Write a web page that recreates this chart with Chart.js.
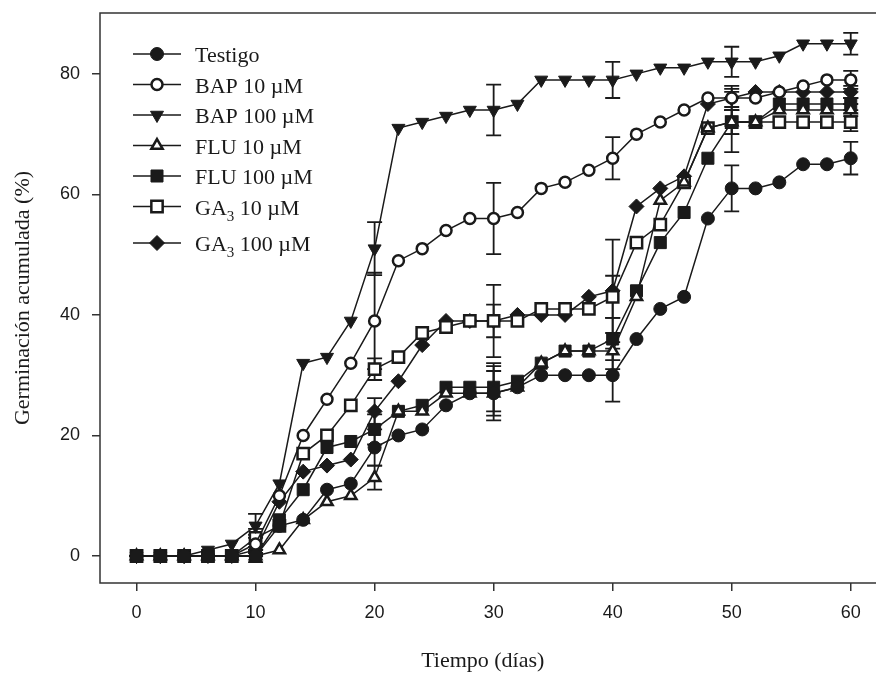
<!DOCTYPE html>
<html>
<head>
<meta charset="utf-8">
<script src="https://cdn.jsdelivr.net/npm/chart.js@4.4.0/dist/chart.umd.min.js"></script>
<style>
html, body { margin: 0; padding: 0; background: #fff; }
#wrap { width: 876px; height: 678px; }
</style>
</head>
<body>
<div id="wrap"><canvas id="chart"></canvas></div>
<script>
// days of sampling
const days = [0, 2, 4, 6, 8, 10, 12, 14, 16, 18, 20, 22, 24, 26, 28, 30,
              32, 34, 36, 38, 40, 42, 44, 46, 48, 50, 52, 54, 56, 58, 60];

// accumulated germination (%)
const testigo  = [0, 0, 0, 0, 0, 0, 5, 6, 11, 12, 18, 20, 21, 25, 27, 27, 28, 30, 30, 30, 30, 36, 41, 43, 56, 61, 61, 62, 65, 65, 66];
const bap10    = [0, 0, 0, 0, 0, 2, 10, 20, 26, 32, 39, 49, 51, 54, 56, 56, 57, 61, 62, 64, 66, 70, 72, 74, 76, 76, 76, 77, 78, 79, 79];
const bap100   = [0, 0, 0, 1, 2, 5, 12, 32, 33, 39, 51, 71, 72, 73, 74, 74, 75, 79, 79, 79, 79, 80, 81, 81, 82, 82, 82, 83, 85, 85, 85];
const flu10    = [0, 0, 0, 0, 0, 0, 1, 6, 9, 10, 13, 24, 24, 27, 27, 27, 28, 32, 34, 34, 34, 43, 59, 62, 71, 72, 72, 74, 74, 74, 74];
const flu100   = [0, 0, 0, 0, 0, 0, 6, 11, 18, 19, 21, 24, 25, 28, 28, 28, 29, 32, 34, 34, 36, 44, 52, 57, 66, 72, 72, 75, 75, 75, 75];
const ga3_10   = [0, 0, 0, 0, 0, 3, 5, 17, 20, 25, 31, 33, 37, 38, 39, 39, 39, 41, 41, 41, 43, 52, 55, 62, 71, 72, 72, 72, 72, 72, 72];
const ga3_100  = [0, 0, 0, 0, 0, 1, 9, 14, 15, 16, 24, 29, 35, 39, 39, 39, 40, 40, 40, 43, 44, 58, 61, 63, 75, 76, 77, 77, 77, 77, 77];

// error bars, only every 10 days
const errDays = [10, 20, 30, 40, 50, 60];
const testigoErr = [0, 3, 4.5, 4.4, 3.8, 2.7];
const bap10Err   = [1.5, 8, 5.9, 3.5, 1.5, 1.5];
const bap100Err  = [2, 4.4, 4.2, 3, 2.5, 1.8];
const flu10Err   = [0, 2, 3.7, 3, 2, 1];
const flu100Err  = [1, 2.5, 4, 3.5, 2, 1];
const ga3_10Err  = [1.5, 1.8, 6, 3.5, 5, 1.5];
const ga3_100Err = [1, 2.2, 2.7, 8.5, 2, 1];

const xTicks = [0, 10, 20, 30, 40, 50, 60];
const yTicks = [0, 20, 40, 60, 80];

const ink = '#1a1a1a';

function series(label, values, errs, style, filled, radius, rotation) {
    return {
        label: label,
        data: days.map((d, i) => ({ x: d, y: values[i] })),
        errs: errs,
        borderColor: ink,
        borderWidth: 1.5,
        pointStyle: style,
        pointRadius: radius,
        pointHoverRadius: radius,
        pointRotation: rotation || 0,
        pointBackgroundColor: filled ? ink : '#fff',
        pointBorderColor: ink,
        pointBorderWidth: filled ? 1 : 2.5,
        fill: false,
        tension: 0
    };
}

const datasets = [
    series('Testigo', testigo, testigoErr, 'circle', true, 6.5),
    series('BAP 10 µM', bap10, bap10Err, 'circle', false, 5.5),
    series('BAP 100 µM', bap100, bap100Err, 'triangle', true, 7.5, 180),
    series('FLU 10 µM', flu10, flu10Err, 'triangle', false, 6.5),
    series('FLU 100 µM', flu100, flu100Err, 'rect', true, 8.5),
    series('GA₃ 10 µM', ga3_10, ga3_10Err, 'rect', false, 8),
    series('GA₃ 100 µM', ga3_100, ga3_100Err, 'rectRot', true, 7.5)
];

// frame (top, left, bottom) and error bars
const framePlugin = {
    id: 'frame',
    beforeDatasetsDraw(chart) {
        const { ctx, chartArea: a, scales } = chart;
        ctx.save();
        ctx.strokeStyle = '#333';
        ctx.lineWidth = 1.5;
        ctx.beginPath();
        ctx.moveTo(chart.width, a.top);
        ctx.lineTo(a.left, a.top);
        ctx.lineTo(a.left, a.bottom);
        ctx.lineTo(chart.width, a.bottom);
        ctx.stroke();

        ctx.strokeStyle = ink;
        ctx.lineWidth = 1.8;
        chart.data.datasets.forEach(ds => {
            errDays.forEach((d, k) => {
                const e = ds.errs[k];
                if (!e) return;
                const v = ds.data[days.indexOf(d)].y;
                const x = scales.x.getPixelForValue(d);
                const y1 = scales.y.getPixelForValue(v + e);
                const y2 = scales.y.getPixelForValue(v - e);
                ctx.beginPath();
                ctx.moveTo(x, y1); ctx.lineTo(x, y2);
                ctx.moveTo(x - 7.5, y1); ctx.lineTo(x + 7.5, y1);
                ctx.moveTo(x - 7.5, y2); ctx.lineTo(x + 7.5, y2);
                ctx.stroke();
            });
        });
        ctx.restore();
    }
};

const legendPlugin = {
    id: 'lineLegend',
    afterDatasetsDraw(chart) {
        const ctx = chart.ctx;
        chart.data.datasets.forEach((ds, i) => {
            const y = 54 + i * 30.5 + (i === 6 ? 6 : 0);
            ctx.save();
            ctx.strokeStyle = ink;
            ctx.lineWidth = 1.5;
            ctx.beginPath();
            ctx.moveTo(133, y); ctx.lineTo(181, y);
            ctx.stroke();
            ctx.fillStyle = ds.pointBackgroundColor;
            ctx.strokeStyle = ds.pointBorderColor;
            ctx.lineWidth = ds.pointBorderWidth;
            Chart.helpers.drawPoint(ctx, {
                pointStyle: ds.pointStyle,
                radius: ds.pointRadius,
                rotation: ds.pointRotation,
                borderWidth: ds.pointBorderWidth
            }, 157, y);

            ctx.fillStyle = ink;
            ctx.textBaseline = 'alphabetic';
            ctx.textAlign = 'left';
            const big = '22px "Liberation Serif", "Times New Roman", serif';
            const small = '15px "Liberation Serif", "Times New Roman", serif';
            const parts = ds.label.split('₃');
            let x = 195;
            ctx.font = big;
            ctx.fillText(parts[0], x, y + 8);
            x += ctx.measureText(parts[0]).width;
            if (parts.length > 1) {
                ctx.font = small;
                ctx.fillText('3', x, y + 14);
                x += ctx.measureText('3').width;
                ctx.font = big;
                ctx.fillText(parts[1], x, y + 8);
            }
            ctx.restore();
        });
    }
};

const tickFont = { family: '"Liberation Sans", Arial, sans-serif', size: 18 };
const titleFont = { family: '"Liberation Serif", "Times New Roman", serif', size: 22 };

new Chart(document.getElementById('chart'), {
    type: 'line',
    data: { datasets: datasets },
    options: {
        responsive: true,
        maintainAspectRatio: false,
        animation: false,
        layout: { padding: { top: 13, right: 0, left: 0, bottom: 0 } },
        plugins: {
            legend: { display: false },
            tooltip: { enabled: false }
        },
        scales: {
            x: {
                type: 'linear',
                min: -3.07,
                max: 61.24,
                afterBuildTicks: axis => { axis.ticks = xTicks.map(v => ({ value: v })); },
                afterFit: axis => {
                    axis.height = 95;
                    axis.paddingLeft = 0;
                    axis.paddingRight = 0;
                },
                grid: { drawOnChartArea: false, drawTicks: true, tickLength: 8, color: '#333', lineWidth: 1.5 },
                border: { display: false },
                ticks: { font: tickFont, color: ink, padding: 11, maxRotation: 0 },
                title: { display: true, text: 'Tiempo (días)', font: titleFont, color: ink, padding: { top: 0, bottom: 4 } }
            },
            y: {
                min: -4.48,
                max: 90.1,
                afterBuildTicks: axis => { axis.ticks = yTicks.map(v => ({ value: v })); },
                afterFit: axis => {
                    axis.width = 100;
                    axis.paddingTop = 0;
                    axis.paddingBottom = 0;
                },
                grid: { drawOnChartArea: false, drawTicks: true, tickLength: 8, color: '#333', lineWidth: 1.5 },
                border: { display: false },
                ticks: { font: tickFont, color: ink, padding: 12 },
                title: { display: true, text: 'Germinación acumulada (%)', font: titleFont, color: ink, padding: { top: 10, bottom: 0 } }
            }
        }
    },
    plugins: [framePlugin, legendPlugin]
});
</script>
</body>
</html>
